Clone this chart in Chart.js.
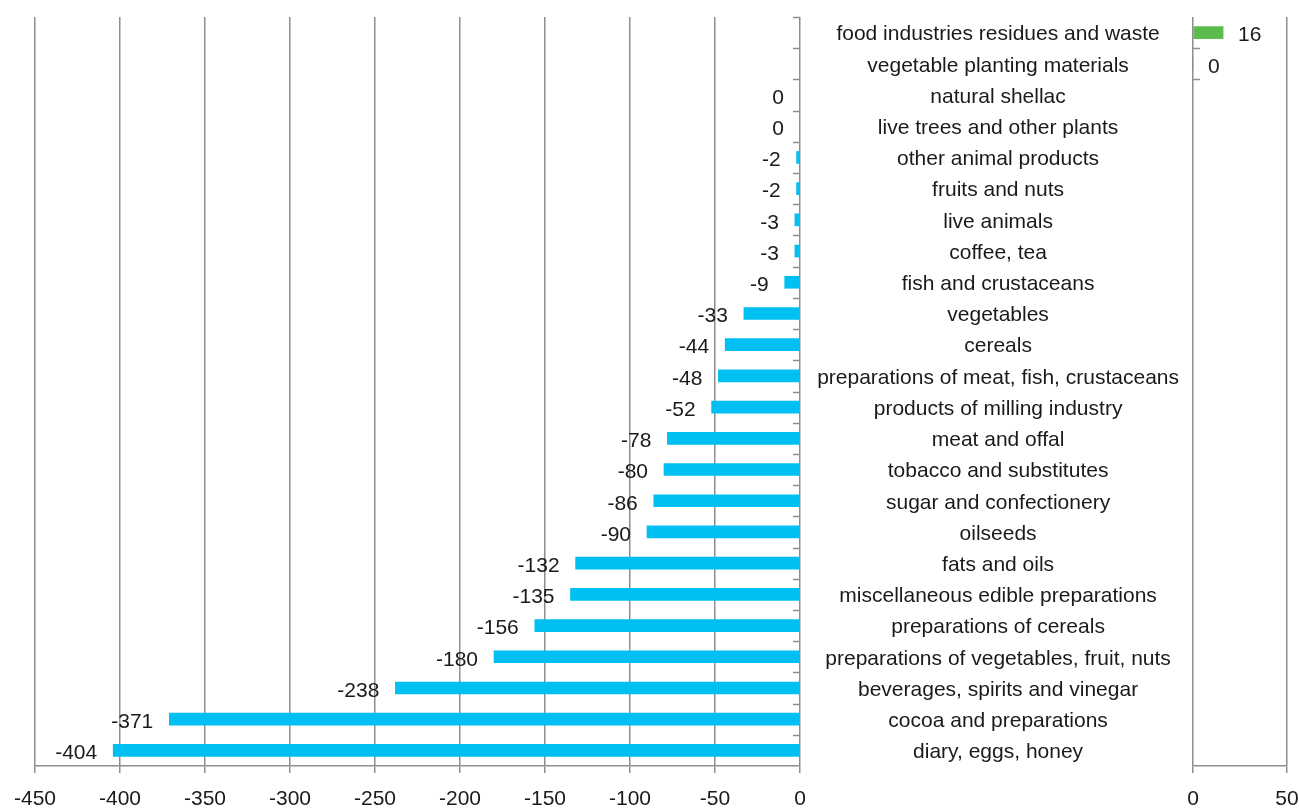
<!DOCTYPE html>
<html>
<head>
<meta charset="utf-8">
<script src="https://cdn.jsdelivr.net/npm/chart.js@4.4.1/dist/chart.umd.min.js"></script>
<style>
  html, body { margin: 0; padding: 0; background: #fff; }
  #wrap { position: relative; width: 1299px; height: 808px; }
  #wrap canvas { position: absolute; left: 0; top: 0; }
</style>
</head>
<body>
<div id="wrap">
  <canvas id="leftChart" width="1299" height="808"></canvas>
  <canvas id="rightChart" width="1299" height="808"></canvas>
</div>
<script>
// categories, top to bottom
var categories = [
    "food industries residues and waste",
    "vegetable planting materials",
    "natural shellac",
    "live trees and other plants",
    "other animal products",
    "fruits and nuts",
    "live animals",
    "coffee, tea",
    "fish and crustaceans",
    "vegetables",
    "cereals",
    "preparations of meat, fish, crustaceans",
    "products of milling industry",
    "meat and offal",
    "tobacco and substitutes",
    "sugar and confectionery",
    "oilseeds",
    "fats and oils",
    "miscellaneous edible preparations",
    "preparations of cereals",
    "preparations of vegetables, fruit, nuts",
    "beverages, spirits and vinegar",
    "cocoa and preparations",
    "diary, eggs, honey"
];

// negative balances (left panel)
var leftValues = [null, null, 0, 0, -2, -2, -3, -3, -9, -33, -44, -48, -52,
    -78, -80, -86, -90, -132, -135, -156, -180, -238, -371, -404];

// positive balances (right panel)
var rightValues = [16, 0, null, null, null, null, null, null, null, null, null, null,
    null, null, null, null, null, null, null, null, null, null, null, null];

var leftTicks = [-450, -400, -350, -300, -250, -200, -150, -100, -50, 0];
var rightTicks = [0, 50];

Chart.defaults.font.family = "'Liberation Sans', Arial, sans-serif";
Chart.defaults.font.size = 21;
Chart.defaults.color = "#1a1a1a";

var gridGrey = "#8e8e8e";

// value labels next to bar ends
var barLabels = {
    id: "barLabels",
    afterDatasetsDraw: function (chart, args, opts) {
        var ctx = chart.ctx;
        var meta = chart.getDatasetMeta(0);
        var data = chart.data.datasets[0].data;
        ctx.save();
        ctx.font = "21px 'Liberation Sans', Arial, sans-serif";
        ctx.fillStyle = "#1a1a1a";
        ctx.textBaseline = "middle";
        meta.data.forEach(function (bar, i) {
            if (data[i] === null) return;
            if (opts.side === "left") {
                ctx.textAlign = "right";
                ctx.fillText(String(data[i]), bar.x - 16, bar.y + 3);
            } else {
                ctx.textAlign = "left";
                ctx.fillText(String(data[i]), bar.x + 15, bar.y + 3);
            }
        });
        ctx.restore();
    }
};

// little tick marks on the zero line between categories
var catTicks = {
    id: "catTicks",
    afterDraw: function (chart, args, opts) {
        var ctx = chart.ctx;
        var y = chart.scales.y;
        var x0 = chart.scales.x.getPixelForValue(0);
        ctx.save();
        ctx.strokeStyle = gridGrey;
        ctx.lineWidth = 1.5;
        opts.rows.forEach(function (i) {
            var py = Math.round(y.getPixelForValue(i - 0.5)) + 0.5;
            ctx.beginPath();
            ctx.moveTo(x0, py);
            ctx.lineTo(x0 + opts.len, py);
            ctx.stroke();
        });
        ctx.restore();
    }
};

function noPad(s) {
    s.paddingTop = 0;
    s.paddingBottom = 0;
    s.paddingLeft = 0;
    s.paddingRight = 0;
}

var leftRows = [];
for (var i = 0; i < categories.length; i++) leftRows.push(i);

new Chart(document.getElementById("leftChart"), {
    type: "bar",
    data: {
        labels: categories,
        datasets: [{
            data: leftValues,
            backgroundColor: "#00BFF3",
            barThickness: 12
        }]
    },
    options: {
        indexAxis: "y",
        responsive: false,
        animation: false,
        layout: { padding: { left: 35, right: 499, top: 17, bottom: 0 } },
        plugins: {
            legend: { display: false },
            tooltip: { enabled: false },
            barLabels: { side: "left" },
            catTicks: { rows: leftRows, len: -7 }
        },
        scales: {
            x: {
                min: -450,
                max: 0,
                afterBuildTicks: function (s) {
                    s.ticks = leftTicks.map(function (v) { return { value: v }; });
                },
                afterFit: function (s) { s.height = 42; noPad(s); },
                grid: { color: gridGrey, lineWidth: 1.5, tickLength: 7 },
                border: { color: gridGrey, width: 1.5 },
                ticks: { padding: 14, maxRotation: 0 }
            },
            y: { display: false }
        }
    },
    plugins: [barLabels, catTicks]
});

new Chart(document.getElementById("rightChart"), {
    type: "bar",
    data: {
        labels: categories,
        datasets: [{
            data: rightValues,
            backgroundColor: "#5BBB4B",
            barThickness: 12
        }]
    },
    options: {
        indexAxis: "y",
        responsive: false,
        animation: false,
        layout: { padding: { left: 800, right: 12, top: 17, bottom: 0 } },
        plugins: {
            legend: { display: false },
            tooltip: { enabled: false },
            barLabels: { side: "right" },
            catTicks: { rows: [1, 2], len: 7 }
        },
        scales: {
            x: {
                min: 0,
                max: 50,
                afterBuildTicks: function (s) {
                    s.ticks = rightTicks.map(function (v) { return { value: v }; });
                },
                afterFit: function (s) { s.height = 42; noPad(s); },
                grid: { color: gridGrey, lineWidth: 1.5, tickLength: 7 },
                border: { color: gridGrey, width: 1.5 },
                ticks: { padding: 14, maxRotation: 0 }
            },
            y: {
                position: "left",
                afterFit: function (s) { s.width = 393; noPad(s); },
                grid: { display: false, drawTicks: false },
                border: { display: false },
                ticks: { crossAlign: "center", padding: 14, autoSkip: false, labelOffset: 2 }
            }
        }
    },
    plugins: [barLabels, catTicks]
});
</script>
</body>
</html>
